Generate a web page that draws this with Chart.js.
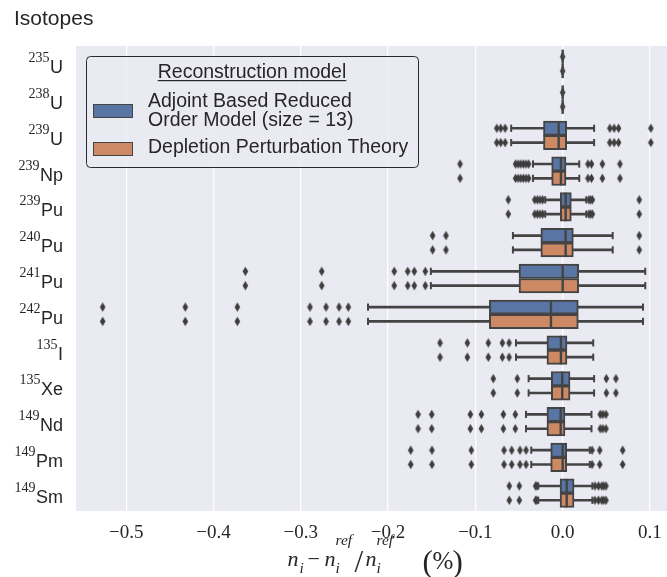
<!DOCTYPE html>
<html>
<head>
<meta charset="utf-8">
<script src="https://cdn.jsdelivr.net/npm/chart.js@4"></script>
<style>
  html, body { margin: 0; padding: 0; background: #fff; }
  canvas { display: block; }
</style>
</head>
<body>
<canvas id="chart" width="667" height="577"></canvas>
<script>
// isotopes, top to bottom
var massNumbers = ['235', '238', '239', '239', '239', '240', '241', '242', '135', '135', '149', '149', '149'];
var symbols = ['U', 'U', 'U', 'Np', 'Pu', 'Pu', 'Pu', 'Pu', 'I', 'Xe', 'Nd', 'Pm', 'Sm'];
var xTicks = [-0.5, -0.4, -0.3, -0.2, -0.1, 0.0, 0.1];

var legendTitle = 'Reconstruction model';
var modelLabels = [['Adjoint Based Reduced', 'Order Model (size = 13)'], ['Depletion Perturbation Theory']];

// Adjoint based reduced order model
var romWhiskLo = [0, 0, -0.059, -0.034, -0.020, -0.057, -0.151, -0.223, -0.0535, -0.039, -0.042, -0.036, -0.028];
var romQ1 = [0, 0, -0.022, -0.0126, -0.0027, -0.025, -0.050, -0.084, -0.018, -0.013, -0.018, -0.0137, -0.003];
var romMedian = [0, 0, -0.0046, -0.002, 0.0034, 0.0034, 0.0, -0.0134, -0.002, -0.0005, -0.0023, 0.0, 0.0046];
var romQ3 = [0, 0, 0.0046, 0.0038, 0.0099, 0.0122, 0.0183, 0.0179, 0.0049, 0.0084, 0.0026, 0.0046, 0.013];
var romWhiskHi = [0, 0, 0.036, 0.019, 0.027, 0.0573, 0.0946, 0.092, 0.035, 0.036, 0.033, 0.031, 0.034];
var romFliers = [
  [0.0],
  [0.0],
  [-0.0755, -0.071, -0.066, 0.054, 0.059, 0.064, 0.101],
  [-0.1176, -0.054, -0.051, -0.048, -0.045, -0.042, -0.039, 0.029, 0.033, 0.0454, 0.0656],
  [-0.0623, -0.032, -0.029, -0.026, -0.023, 0.030, 0.032, 0.034, 0.0877],
  [-0.149, -0.1337, 0.0877],
  [-0.3635, -0.276, -0.193, -0.1775, -0.170, -0.1574],
  [-0.527, -0.4323, -0.3727, -0.2895, -0.2711, -0.2562, -0.2456],
  [-0.1405, -0.1092, -0.0852, -0.0691, -0.0614],
  [-0.0795, -0.052, 0.050, 0.061],
  [-0.1657, -0.150, -0.1058, -0.0932, -0.068, -0.0543, 0.043, 0.046, 0.0496],
  [-0.1741, -0.1497, -0.1047, -0.0672, -0.0584, -0.0489, -0.042, 0.0336, 0.0424, 0.0687],
  [-0.0612, -0.0497, -0.031, -0.0295, 0.037, 0.041, 0.0447, 0.047, 0.0496]
];

// depletion perturbation theory
var dptWhiskLo = [0, 0, -0.059, -0.034, -0.020, -0.057, -0.151, -0.223, -0.0535, -0.039, -0.042, -0.036, -0.028];
var dptQ1 = [0, 0, -0.022, -0.0126, -0.0027, -0.025, -0.050, -0.084, -0.018, -0.013, -0.018, -0.0137, -0.003];
var dptMedian = [0, 0, -0.0046, -0.002, 0.0034, 0.0034, 0.0, -0.0134, -0.002, -0.0005, -0.0023, 0.0, 0.0046];
var dptQ3 = [0, 0, 0.0046, 0.0038, 0.0099, 0.0122, 0.0183, 0.0179, 0.0049, 0.0084, 0.0026, 0.0046, 0.013];
var dptWhiskHi = [0, 0, 0.036, 0.019, 0.027, 0.0573, 0.0946, 0.092, 0.035, 0.036, 0.033, 0.031, 0.034];
var dptFliers = [
  [0.0],
  [0.0],
  [-0.0755, -0.071, -0.066, 0.054, 0.059, 0.064, 0.101],
  [-0.1176, -0.054, -0.051, -0.048, -0.045, -0.042, -0.039, 0.029, 0.033, 0.0454, 0.0656],
  [-0.0623, -0.032, -0.029, -0.026, -0.023, 0.030, 0.032, 0.034, 0.0877],
  [-0.149, -0.1337, 0.0877],
  [-0.3635, -0.276, -0.193, -0.1775, -0.170, -0.1574],
  [-0.527, -0.4323, -0.3727, -0.2895, -0.2711, -0.2562, -0.2456],
  [-0.1405, -0.1092, -0.0852, -0.0691, -0.0614],
  [-0.0795, -0.052, 0.050, 0.061],
  [-0.1657, -0.150, -0.1058, -0.0932, -0.068, -0.0543, 0.043, 0.046, 0.0496],
  [-0.1741, -0.1497, -0.1047, -0.0672, -0.0584, -0.0489, -0.042, 0.0336, 0.0424, 0.0687],
  [-0.0612, -0.0497, -0.031, -0.0295, 0.037, 0.041, 0.0447, 0.047, 0.0496]
];

var colors = ['#5975a4', '#cc8963'];
var lineGray = '#444444';
var textColor = '#262626';
var sans = '"Liberation Sans", Arial, sans-serif';
var serif = '"Liberation Serif", "Times New Roman", serif';

// thin diamond like matplotlib's 'd' marker
function diamondMarker() {
  var c = document.createElement('canvas');
  c.width = 7; c.height = 11;
  var g = c.getContext('2d');
  g.fillStyle = '#3d3d3d';
  g.beginPath();
  g.moveTo(3.5, 0.8); g.lineTo(6.3, 5.5); g.lineTo(3.5, 10.2); g.lineTo(0.7, 5.5);
  g.closePath();
  g.fill();
  return c;
}
var diamond = diamondMarker();

function rangeData(lo, hi, off) {
  return lo.map(function(v, i) { return { y: i + off, x: [v, hi[i]] }; });
}
function pointData(vals, off) {
  return vals.map(function(v, i) { return { x: v, y: i + off }; });
}
function capData(lo, hi, off) {
  var out = [];
  lo.forEach(function(v, i) {
    out.push({ x: v, y: i + off });
    out.push({ x: hi[i], y: i + off });
  });
  return out;
}
function flierData(fl, off) {
  var out = [];
  fl.forEach(function(row, i) {
    row.forEach(function(v) { out.push({ x: v, y: i + off }); });
  });
  return out;
}

function modelSets(m, color, off) {
  return [
    { type: 'scatter', data: pointData(m.median, off), pointStyle: 'line', pointRadius: 7.1,
      pointRotation: 90, pointBorderWidth: 2.4, pointBorderColor: lineGray, order: 1 },
    { type: 'bar', indexAxis: 'y', data: rangeData(m.q1, m.q3, off), backgroundColor: color,
      borderColor: lineGray, borderWidth: 2, borderSkipped: false, grouped: false,
      categoryPercentage: 1, barPercentage: 1, order: 2 },
    { type: 'scatter', data: capData(m.lo, m.hi, off), pointStyle: 'line', pointRadius: 3.6,
      pointRotation: 90, pointBorderWidth: 2, pointBorderColor: lineGray, order: 3 },
    { type: 'bar', indexAxis: 'y', data: rangeData(m.lo, m.hi, off), backgroundColor: lineGray,
      borderWidth: 0, grouped: false, barThickness: 2, order: 4 },
    { type: 'scatter', data: flierData(m.fliers, off), pointStyle: diamond, pointRadius: 4, order: 5 }
  ];
}

var rom = { lo: romWhiskLo, q1: romQ1, median: romMedian, q3: romQ3, hi: romWhiskHi, fliers: romFliers };
var dpt = { lo: dptWhiskLo, q1: dptQ1, median: dptMedian, q3: dptQ3, hi: dptWhiskHi, fliers: dptFliers };
var datasets = modelSets(rom, colors[0], -0.2).concat(modelSets(dpt, colors[1], 0.2));

var plotBackground = {
  id: 'plotBackground',
  beforeDraw: function(chart) {
    var a = chart.chartArea, ctx = chart.ctx;
    ctx.save();
    ctx.fillStyle = '#eaeaf2';
    ctx.fillRect(a.left, a.top, a.right - a.left, a.bottom - a.top);
    ctx.restore();
  }
};

var isotopeLabels = {
  id: 'isotopeLabels',
  afterDraw: function(chart) {
    var ctx = chart.ctx, ys = chart.scales.y;
    var right = chart.chartArea.left - 13;
    ctx.save();
    ctx.fillStyle = textColor;
    ctx.textAlign = 'right';
    ctx.textBaseline = 'alphabetic';
    symbols.forEach(function(sym, i) {
      var y = ys.getPixelForValue(i);
      ctx.font = '18px ' + sans;
      ctx.fillText(sym, right, y + 9.5);
      var w = ctx.measureText(sym).width;
      ctx.font = '14px ' + serif;
      ctx.fillText(massNumbers[i], right - w - 0.5, y - 1.5);
    });
    ctx.restore();
  }
};

var boxLegend = {
  id: 'boxLegend',
  afterDatasetsDraw: function(chart) {
    var ctx = chart.ctx, a = chart.chartArea;
    var left = a.left + 10, top = a.top + 10, w = 332, h = 111;
    ctx.save();
    ctx.beginPath();
    ctx.roundRect(left + 0.5, top + 0.5, w, h, 4);
    ctx.fillStyle = 'rgba(234,234,242,0.8)';
    ctx.fill();
    ctx.strokeStyle = '#2b2b2b';
    ctx.lineWidth = 1;
    ctx.stroke();

    ctx.fillStyle = textColor;
    ctx.font = '19.5px ' + sans;
    ctx.textBaseline = 'alphabetic';
    ctx.textAlign = 'center';
    var cx = left + w / 2;
    ctx.fillText(legendTitle, cx, top + 22);
    var tw = ctx.measureText(legendTitle).width;
    ctx.fillRect(cx - tw / 2, top + 24, tw, 1.2);

    var patchTop = [48, 86];
    var lineBase = [[50.7, 70], [97.3]];
    ctx.textAlign = 'left';
    modelLabels.forEach(function(lines, k) {
      ctx.fillStyle = colors[k];
      ctx.fillRect(left + 7, top + patchTop[k], 40, 14);
      ctx.strokeStyle = lineGray;
      ctx.strokeRect(left + 7.5, top + patchTop[k] + 0.5, 39, 13);
      ctx.fillStyle = textColor;
      lines.forEach(function(t, j) {
        ctx.fillText(t, left + 62, top + lineBase[k][j]);
      });
    });
    ctx.restore();
  }
};

// x axis title, pieces placed at offsets from the left end of the label
var axisTitle = {
  id: 'axisTitle',
  afterDraw: function(chart) {
    var ctx = chart.ctx, a = chart.chartArea;
    var B = 566;
    var it = 'italic 22px ' + serif, itS = 'italic 15.5px ' + serif;
    var rm = '22px ' + serif, big = '31px ' + serif;
    var parts = [
      { t: 'n', f: it, x: 0 }, { t: 'i', f: itS, x: 12, dy: 7 },
      { t: '\u2212', f: rm, x: 20 },
      { t: 'n', f: it, x: 37 }, { t: 'ref', f: itS, x: 48, dy: -21 }, { t: 'i', f: itS, x: 48, dy: 7 },
      { t: '/', f: big, x: 67, dy: 6 },
      { t: 'n', f: it, x: 78 }, { t: 'ref', f: itS, x: 89, dy: -21 }, { t: 'i', f: itS, x: 89, dy: 7 },
      { t: '(', f: big, x: 135, dy: 6 }, { t: '%', f: '25px ' + serif, x: 145, dy: 3 },
      { t: ')', f: big, x: 165, dy: 6 }
    ];
    var start = (a.left + a.right) / 2 - 84;
    ctx.save();
    ctx.fillStyle = textColor;
    ctx.textAlign = 'left';
    ctx.textBaseline = 'alphabetic';
    parts.forEach(function(p) {
      ctx.font = p.f;
      ctx.fillText(p.t, start + p.x, B + (p.dy || 0));
    });
    ctx.restore();
  }
};

var chart = new Chart(document.getElementById('chart'), {
  type: 'bar',
  data: { datasets: datasets },
  options: {
    responsive: false,
    animation: false,
    events: [],
    layout: { autoPadding: false, padding: { left: 14, right: 0, top: 0, bottom: 0 } },
    scales: {
      x: {
        type: 'linear',
        min: -0.5575,
        max: 0.1195,
        offset: false,
        afterFit: function(s) { s.height = 66; s.paddingLeft = 0; s.paddingRight = 0; },
        afterBuildTicks: function(s) { s.ticks = xTicks.map(function(v) { return { value: v }; }); },
        grid: { color: '#ffffff', lineWidth: 1.3, drawTicks: false, offset: false },
        border: { display: false },
        ticks: {
          padding: 10.5,
          color: textColor,
          font: { family: serif, size: 19 },
          callback: function(v) { return (v < -1e-9 ? '\u2212' : '') + Math.abs(v).toFixed(1); }
        }
      },
      y: {
        type: 'linear',
        reverse: true,
        min: -0.5,
        max: 12.5,
        offset: false,
        afterFit: function(s) { s.width = 62; s.paddingTop = 0; s.paddingBottom = 0; },
        afterBuildTicks: function(s) { s.ticks = symbols.map(function(_, i) { return { value: i }; }); },
        grid: { display: false, offset: false },
        border: { display: false },
        ticks: { display: false }
      }
    },
    plugins: {
      legend: { display: false },
      tooltip: { enabled: false },
      title: {
        display: true,
        text: 'Isotopes',
        align: 'start',
        color: textColor,
        font: { family: sans, size: 21, weight: 'normal' },
        padding: { top: 7, bottom: 13.8 }
      }
    }
  },
  plugins: [plotBackground, isotopeLabels, boxLegend, axisTitle]
});
</script>
</body>
</html>
